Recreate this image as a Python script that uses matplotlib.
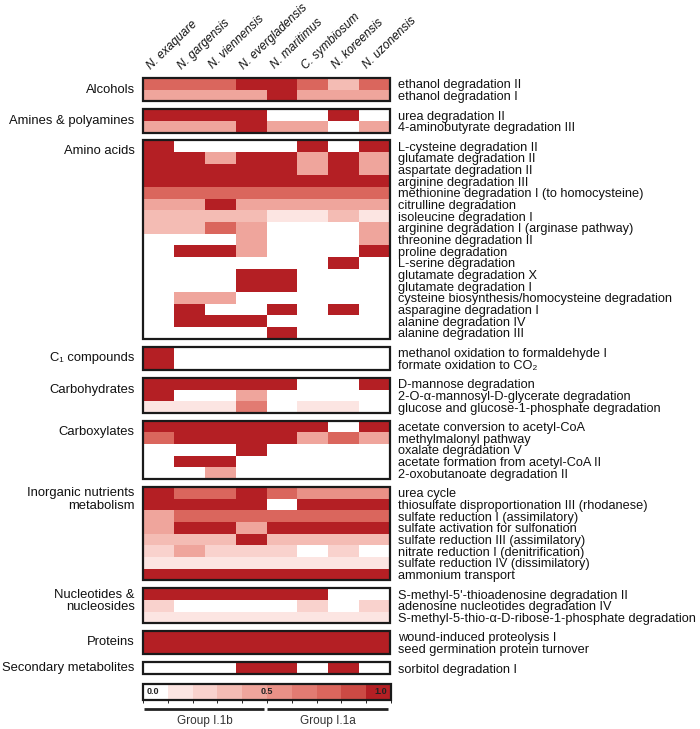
import numpy as np
import matplotlib
matplotlib.use("Agg")
import matplotlib.pyplot as plt
from matplotlib.colors import ListedColormap, BoundaryNorm
from matplotlib.patches import Rectangle
from matplotlib.cm import ScalarMappable
import matplotlib.transforms as mtransforms

plt.rcParams['font.family'] = ['Liberation Sans', 'DejaVu Sans']

# ---------------- data ----------------
species = ["N. exaquare", "N. gargensis", "N. viennensis", "N. evergladensis",
           "N. maritimus", "C. symbiosum", "N. koreensis", "N. uzonensis"]
groups = ["Group I.1b", "Group I.1a"]
group_sizes = [4, 4]

categories = ["Alcohols", "Amines & polyamines", "Amino acids", "C\u2081 compounds",
              "Carbohydrates", "Carboxylates", "Inorganic nutrients\nmetabolism",
              "Nucleotides &\nnucleosides", "Proteins", "Secondary metabolites"]

alcohols_paths = ["ethanol degradation II", "ethanol degradation I"]
alcohols_vals = [[0.75, 0.75, 0.75, 1, 1, 0.75, 0.35, 0.75],
                 [0.45, 0.45, 0.45, 0.45, 1, 0.45, 0.45, 0.45]]

amines_paths = ["urea degradation II", "4-aminobutyrate degradation III"]
amines_vals = [[1, 1, 1, 1, 0, 0, 1, 0],
               [0.45, 0.45, 0.45, 1, 0.45, 0.45, 0, 0.45]]

amino_paths = ["L-cysteine degradation II", "glutamate degradation II",
               "aspartate degradation II", "arginine degradation III",
               "methionine degradation I (to homocysteine)", "citrulline degradation",
               "isoleucine degradation I", "arginine degradation I (arginase pathway)",
               "threonine degradation II", "proline degradation", "L-serine degradation",
               "glutamate degradation X", "glutamate degradation I",
               "cysteine biosynthesis/homocysteine degradation", "asparagine degradation I",
               "alanine degradation IV", "alanine degradation III"]
amino_vals = [[1, 0, 0, 0, 0, 1, 0, 1],
              [1, 1, 0.45, 1, 1, 0.45, 1, 0.45],
              [1, 1, 1, 1, 1, 0.45, 1, 0.45],
              [1, 1, 1, 1, 1, 1, 1, 1],
              [0.75, 0.75, 0.75, 0.75, 0.75, 0.75, 0.75, 0.75],
              [0.45, 0.45, 1, 0.45, 0.45, 0.45, 0.45, 0.45],
              [0.35, 0.35, 0.35, 0.35, 0.15, 0.15, 0.35, 0.15],
              [0.35, 0.35, 0.75, 0.45, 0, 0, 0, 0.45],
              [0, 0, 0, 0.45, 0, 0, 0, 0.45],
              [0, 1, 1, 0.45, 0, 0, 0, 1],
              [0, 0, 0, 0, 0, 0, 1, 0],
              [0, 0, 0, 1, 1, 0, 0, 0],
              [0, 0, 0, 1, 1, 0, 0, 0],
              [0, 0.45, 0.45, 0, 0, 0, 0, 0],
              [0, 1, 0, 0, 1, 0, 1, 0],
              [0, 1, 1, 1, 0, 0, 0, 0],
              [0, 0, 0, 0, 1, 0, 0, 0]]

c1_paths = ["methanol oxidation to formaldehyde I", "formate oxidation to CO\u2082"]
c1_vals = [[1, 0, 0, 0, 0, 0, 0, 0],
           [1, 0, 0, 0, 0, 0, 0, 0]]

carbo_paths = ["D-mannose degradation", "2-O-\u03b1-mannosyl-D-glycerate degradation",
               "glucose and glucose-1-phosphate degradation"]
carbo_vals = [[1, 1, 1, 1, 1, 0, 0, 1],
              [1, 0, 0, 0.45, 0, 0, 0, 0],
              [0.15, 0.15, 0.15, 0.65, 0, 0.15, 0.15, 0]]

carbox_paths = ["acetate conversion to acetyl-CoA", "methylmalonyl pathway",
                "oxalate degradation V", "acetate formation from acetyl-CoA II",
                "2-oxobutanoate degradation II"]
carbox_vals = [[1, 1, 1, 1, 1, 1, 0, 1],
               [0.75, 1, 1, 1, 1, 0.45, 0.75, 0.45],
               [0, 0, 0, 1, 0, 0, 0, 0],
               [0, 1, 1, 0, 0, 0, 0, 0],
               [0, 0, 0.45, 0, 0, 0, 0, 0]]

inorg_paths = ["urea cycle", "thiosulfate disproportionation III (rhodanese)",
               "sulfate reduction I (assimilatory)", "sulfate activation for sulfonation",
               "sulfate reduction III (assimilatory)", "nitrate reduction I (denitrification)",
               "sulfate reduction IV (dissimilatory)", "ammonium transport"]
inorg_vals = [[1, 0.75, 0.75, 1, 0.75, 0.55, 0.55, 0.55],
              [1, 1, 1, 1, 0, 1, 1, 1],
              [0.45, 0.75, 0.75, 0.75, 0.75, 0.75, 0.75, 0.75],
              [0.45, 1, 1, 0.45, 1, 1, 1, 1],
              [0.35, 0.35, 0.35, 1, 0.35, 0.35, 0.35, 0.35],
              [0.25, 0.45, 0.25, 0.25, 0.25, 0, 0.25, 0],
              [0.15, 0.15, 0.15, 0.15, 0.15, 0.15, 0.15, 0.15],
              [1, 1, 1, 1, 1, 1, 1, 1]]

nucl_paths = ["S-methyl-5'-thioadenosine degradation II",
              "adenosine nucleotides degradation IV",
              "S-methyl-5-thio-\u03b1-D-ribose-1-phosphate degradation"]
nucl_vals = [[1, 1, 1, 1, 1, 1, 0, 0],
             [0.25, 0, 0, 0, 0, 0.25, 0, 0.25],
             [0.15, 0.15, 0.15, 0.15, 0.15, 0.15, 0.15, 0.15]]

prot_paths = ["wound-induced proteolysis I", "seed germination protein turnover"]
prot_vals = [[1, 1, 1, 1, 1, 1, 1, 1],
             [1, 1, 1, 1, 1, 1, 1, 1]]

sec_paths = ["sorbitol degradation I"]
sec_vals = [[0, 0, 0, 1, 1, 0, 1, 0]]

blocks = [
    (categories[0], alcohols_paths, alcohols_vals),
    (categories[1], amines_paths, amines_vals),
    (categories[2], amino_paths, amino_vals),
    (categories[3], c1_paths, c1_vals),
    (categories[4], carbo_paths, carbo_vals),
    (categories[5], carbox_paths, carbox_vals),
    (categories[6], inorg_paths, inorg_vals),
    (categories[7], nucl_paths, nucl_vals),
    (categories[8], prot_paths, prot_vals),
    (categories[9], sec_paths, sec_vals),
]

# ---------------- style ----------------
bin_colors = ['#ffffff', '#fce5e2', '#f9d2cd', '#f4bcb4', '#efa59c', '#e99187',
              '#e27b72', '#da665d', '#cc4a44', '#b41f24']
cmap = ListedColormap(bin_colors)
norm = BoundaryNorm(np.linspace(0, 1, 11), cmap.N, clip=True)
edge = '#1a1a1a'
gap = 0.68
label_offset = [1.0, 1.0, 0.9, 1.0, 1.0, 1.0, 1.1, 1.1, 0.95, 0.5]

W, H = 700, 729
fig = plt.figure(figsize=(W / 100, H / 100), dpi=100)
ax = fig.add_axes([143 / W, 1 - 674 / H, 247 / W, 596 / H])

y = 0.0
tick_pos, tick_lab = [], []
for (cat, paths, vals), off in zip(blocks, label_offset):
    n = len(paths)
    arr = np.array(vals, dtype=float)
    ax.pcolormesh(np.arange(9), y + np.arange(n + 1), arr, cmap=cmap, norm=norm,
                  edgecolors='none', antialiased=False)
    ax.add_patch(Rectangle((0, y), 8, n, fill=False, lw=1.6, ec=edge, zorder=3,
                           clip_on=False))
    tick_pos += list(y + np.arange(n) + 0.5)
    tick_lab += paths
    ax.text(-0.27, y + off, cat, ha='right', va='center', fontsize=9.4, color='#111',
            linespacing=1.1)
    y += n + gap

ax.set_xlim(0, 8)
ax.set_ylim(y - gap, 0)
ax.set_frame_on(False)
ax.set_xticks([])
ax.yaxis.tick_right()
ax.set_yticks(tick_pos)
ax.set_yticklabels(tick_lab, fontsize=9.2, color='#111')
ax.tick_params(axis='y', length=0, pad=5.5)

for i, sp in enumerate(species):
    ax.text(i + 0.33, -0.55, sp, rotation=44, ha='left', va='bottom',
            rotation_mode='anchor', fontsize=8.6, style='italic', color='#111')

# ---------------- colour key ----------------
cax = fig.add_axes([143 / W, 1 - 700 / H, 248 / W, 16 / H])
cb = fig.colorbar(ScalarMappable(norm=norm, cmap=cmap), cax=cax, orientation='horizontal')
cb.set_ticks([])
cb.outline.set_linewidth(1.6)
cb.outline.set_edgecolor(edge)
for xv, s, ha in [(0.015, '0.0', 'left'), (0.5, '0.5', 'center'), (0.985, '1.0', 'right')]:
    cax.text(xv, 0.5, s, transform=cax.transAxes, ha=ha, va='center', fontsize=6.5,
             fontweight='bold', color='#222')

# ---------------- group bars ----------------
gax = fig.add_axes([143 / W, 1 - 712 / H, 247 / W, 6 / H])
gax.set_xlim(0, 8)
gax.set_ylim(0, 1)
gax.axis('off')
start = 0
trans = mtransforms.blended_transform_factory(gax.transData, fig.transFigure)
for g, size in zip(groups, group_sizes):
    gax.plot([start + 0.03, start + size - 0.07], [0.5, 0.5], color='#222', lw=2,
             solid_capstyle='butt', clip_on=False)
    gax.text(start + size / 2, 1 - 721 / H, g, transform=trans, ha='center',
             va='center', fontsize=8.5, color='#333')
    start += size

fig.savefig('out.png', dpi=100)
